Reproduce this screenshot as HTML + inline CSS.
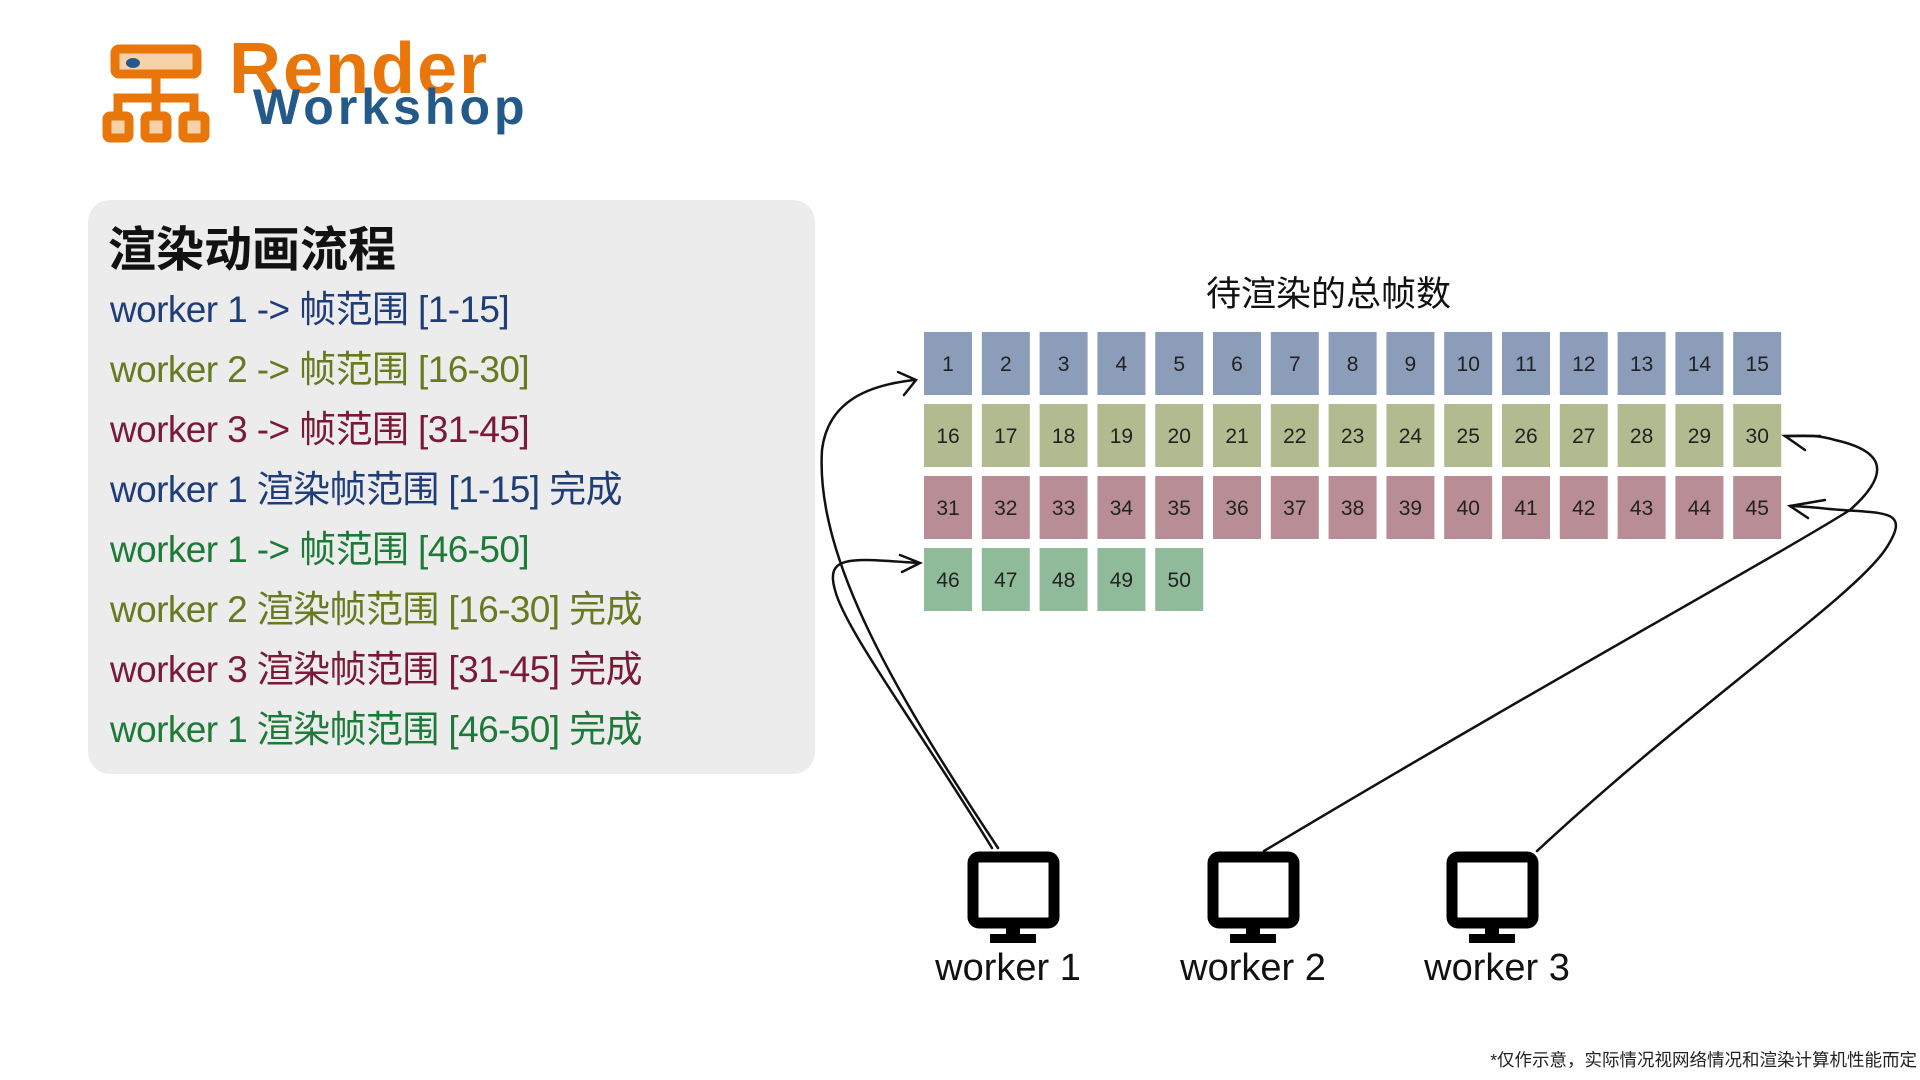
<!DOCTYPE html>
<html><head><meta charset="utf-8"><style>
body{margin:0;width:1920px;height:1080px;background:#fff;position:relative;overflow:hidden;font-family:"Liberation Sans","Noto Sans CJK SC",sans-serif}
.abs{position:absolute;white-space:nowrap}
.panel{position:absolute;left:88px;top:200px;width:727px;height:574px;background:#ececec;border-radius:22px}
.ln{position:absolute;left:110px;font-size:37px;line-height:40px;letter-spacing:-0.6px}
.b{color:#1f3d78}.o{color:#667a1f}.m{color:#7a1a38}.g{color:#1e7a38}
</style></head><body>
<svg class="abs" style="left:0;top:0" width="1920" height="1080">
<g fill="#f7d2a9" stroke="#e8760a" stroke-width="9">
<rect x="115" y="49" width="82" height="25" rx="4"/>
<rect x="107" y="116" width="22" height="22" rx="3"/>
<rect x="145" y="116" width="22" height="22" rx="3"/>
<rect x="183" y="116" width="22" height="22" rx="3"/>
</g>
<g fill="none" stroke="#e8760a" stroke-width="9">
<path d="M156,78 V98 M118,112 V98 H194 V112 M156,98 V112"/>
</g>
<ellipse cx="133" cy="63" rx="7" ry="5" fill="#235a8a"/>
</svg>
<div class="abs" style="left:229px;top:28px;font-size:72px;font-weight:bold;color:#e8760a;letter-spacing:2px">Render</div>
<div class="abs" style="left:253px;top:78px;font-size:50px;font-weight:bold;color:#235a8a;letter-spacing:4px">Workshop</div>

<div class="panel"></div>
<div class="abs" style="left:108px;top:210px;font-size:48px;font-weight:bold;color:#111">渲染动画流程</div>
<div class="ln b abs" style="top:290px">worker 1 -&gt; 帧范围 [1-15]</div>
<div class="ln o abs" style="top:350px">worker 2 -&gt; 帧范围 [16-30]</div>
<div class="ln m abs" style="top:410px">worker 3 -&gt; 帧范围 [31-45]</div>
<div class="ln b abs" style="top:470px">worker 1 渲染帧范围 [1-15] 完成</div>
<div class="ln g abs" style="top:530px">worker 1 -&gt; 帧范围 [46-50]</div>
<div class="ln o abs" style="top:590px">worker 2 渲染帧范围 [16-30] 完成</div>
<div class="ln m abs" style="top:650px">worker 3 渲染帧范围 [31-45] 完成</div>
<div class="ln g abs" style="top:710px">worker 1 渲染帧范围 [46-50] 完成</div>

<div class="abs" style="left:1206px;top:266px;font-size:35px;color:#111">待渲染的总帧数</div>

<svg class="abs" style="left:0;top:0" width="1920" height="1080" font-family="Liberation Sans, sans-serif">
<g id="cells" font-size="21" fill="#222" text-anchor="middle"></g>
<g fill="none" stroke="#111" stroke-width="2.5" stroke-linecap="round">
<path d="M998,848 C 900,700 815,560 822,450 C 828,400 870,385 914,380"/>
<path d="M898,372 L916,380 L904,395"/>
<path d="M992,848 C 920,730 845,630 835,590 C 825,555 850,558 918,563"/>
<path d="M900,555 L920,563 L902,572"/>
<path d="M1264,851 C 1550,680 1770,560 1850,510 C 1895,470 1880,450 1835,440 C 1815,434 1800,436 1785,436"/>
<path d="M1820,436 L1785,436 L1805,450"/>
<path d="M1537,851 C 1700,700 1850,600 1885,550 C 1915,505 1880,515 1820,508 C 1808,507 1798,506 1790,506"/>
<path d="M1825,500 L1790,506 L1808,518"/>
</g>
<g fill="none" stroke="#000" stroke-width="11">
<rect x="973" y="857" width="81" height="66" rx="6"/>
<rect x="1213" y="857" width="81" height="66" rx="6"/>
<rect x="1452" y="857" width="81" height="66" rx="6"/>
</g>
<g fill="#000">
<rect x="1006" y="928" width="14" height="7"/><rect x="990" y="934" width="46" height="9"/>
<rect x="1246" y="928" width="14" height="7"/><rect x="1230" y="934" width="46" height="9"/>
<rect x="1485" y="928" width="14" height="7"/><rect x="1469" y="934" width="46" height="9"/>
</g>
<g font-size="38" fill="#111" text-anchor="middle">
<text x="1008" y="980">worker 1</text>
<text x="1253" y="980">worker 2</text>
<text x="1497" y="980">worker 3</text>
</g>
<text x="1917" y="1066" font-size="17.5" fill="#222" text-anchor="end" font-family="Liberation Sans, Noto Sans CJK SC, sans-serif">*仅作示意，实际情况视网络情况和渲染计算机性能而定</text>
</svg>
<script>
var g=document.getElementById('cells'),cols=['#8c9dba','#b1bb8f','#b98d96','#8fbb9a'],s='';
for(var n=1;n<=50;n++){var r=Math.floor((n-1)/15),c=(n-1)%15;var x=924+c*57.8,y=332+r*72;
s+='<rect x="'+x+'" y="'+y+'" width="48" height="63" fill="'+cols[r]+'"/><text x="'+(x+24)+'" y="'+(y+39)+'">'+n+'</text>';}
g.innerHTML=s;
</script>
</body></html>
